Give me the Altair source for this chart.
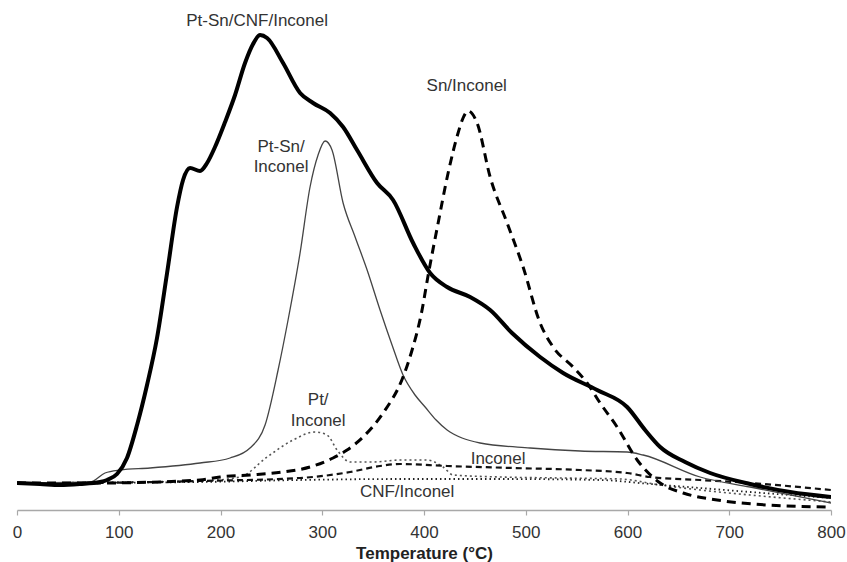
import altair as alt
import pandas as pd

# ---- data (temperature in °C, signal in arbitrary units) ----
ptsn_cnf_T = [0, 22.6, 42.3, 61.9, 81.6, 88.5, 98.3, 108.1, 118, 127.8, 137.6, 147.5, 157.3, 163.2,
              170.1, 179.9, 186.8, 194.6, 204.5, 214.3, 224.1, 232, 238.9, 245.8, 261.5, 278.2, 291,
              307.7, 320.5, 334.2, 353.9, 369.6, 389.3, 406, 422.7, 445.3, 465, 486.5, 514.1, 536.7,
              570.1, 599.6, 617.3, 632.1, 656.6, 681.2, 720.5, 759.9, 800]
ptsn_cnf_v = [27, 26, 25, 26, 28, 30, 36, 52, 85, 125, 172, 237, 303, 330,
              342, 339, 347, 363, 388, 415, 447, 466, 475, 472, 447, 417, 407,
              397, 383, 360, 327, 310, 267, 237, 223, 213, 200, 177, 153, 137,
              120, 103, 80, 63, 48, 37, 26, 18, 13]

ptsn_T = [0, 71.8, 86.5, 101.2, 130.7, 179.9, 209.4, 229, 243.8, 256.6, 266.4, 278.2, 288, 295.9,
          302.8, 309.6, 320.5, 332.3, 344.1, 356.8, 368.6, 379.4, 391.2, 401.1, 411.9, 422.7, 437.4,
          455.1, 504.3, 553.4, 599.6, 615.4, 671.4, 720.5, 800]
ptsn_v = [27, 28, 37, 40, 42, 47, 52, 62, 85, 140, 190, 257, 323, 355,
          369, 360, 307, 273, 240, 200, 165, 135, 115, 103, 90, 80, 72,
          67, 62, 59, 58, 55, 33, 23, 7]

sn_T = [0, 81.6, 179.9, 199.5, 229, 261.5, 288, 310.6, 324.4, 340.1, 359.8, 379.4, 388.3, 397.1,
        405, 413.9, 423.7, 433.5, 438.4, 443.3, 452.2, 465, 481.7, 497.4, 514.1, 526.9, 546.5,
        560.3, 573.1, 589.8, 609.5, 632.1, 654.7, 688.1, 737.3, 800]
sn_v = [27, 27, 30, 33, 35, 38, 43, 52, 60, 73, 97, 133, 160, 195,
        240, 287, 337, 377, 392, 399, 387, 333, 287, 243, 187, 163, 143,
        127, 107, 83, 50, 27, 17, 10, 5, 3]

pt_T = [0, 179.9, 219.2, 245.8, 271.3, 292.9, 304.7, 314.6, 327.3, 350, 376.5, 403, 418.8, 428.6,
        474.8, 533.8, 592.7, 632.1, 671.4, 720.5, 800]
pt_v = [27, 29, 33, 53, 70, 78, 75, 60, 48, 48, 50, 50, 43, 35,
        33, 32, 31, 25, 20, 15, 8]

inc_T = [0, 81.6, 179.9, 278.2, 327.3, 356.8, 376.5, 422.7, 487.6, 553.4, 599.6, 622.2, 671.4, 720.5, 800]
inc_v = [26, 27, 29, 32, 38, 44, 46, 44, 42, 40, 37, 33, 30, 27, 20]

cnf_T = [0, 180, 278, 376.5, 474.8, 573.1, 622.2, 671.4, 720.5, 800]
cnf_v = [27, 28, 30, 31, 31, 30, 26, 22, 18, 12]

label_text = ["Pt-Sn/CNF/Inconel", "Sn/Inconel", "Pt-Sn/", "Inconel", "Pt/", "Inconel", "Inconel", "CNF/Inconel"]
label_T = [236, 442, 259.5, 259.5, 296, 296, 472.8, 383.4]
label_v = [489, 424, 363, 343, 110, 89, 51, 18]

tick_values = [0, 100, 200, 300, 400, 500, 600, 700, 800]

# ---- build ----
series = [
    ("Pt/Inconel", pt_T, pt_v, "#555555", 1.6, [2, 3]),
    ("CNF/Inconel", cnf_T, cnf_v, "#222222", 1.8, [1.5, 3]),
    ("Inconel", inc_T, inc_v, "#111111", 2.2, [6, 4]),
    ("Pt-Sn/Inconel", ptsn_T, ptsn_v, "#444444", 1.3, None),
    ("Sn/Inconel", sn_T, sn_v, "#000000", 3.0, [9, 6]),
    ("Pt-Sn/CNF/Inconel", ptsn_cnf_T, ptsn_cnf_v, "#000000", 4.0, None),
]

xscale = alt.Scale(domain=[0, 800], nice=False, zero=False)
yscale = alt.Scale(domain=[0, 510], nice=False, zero=False)

font = "Liberation Sans, Arial, Helvetica, sans-serif"
xaxis = alt.Axis(
    values=tick_values, grid=False, title="Temperature (°C)",
    domainColor="#a8a8a8", domainWidth=1.5, tickColor="#a8a8a8", tickSize=5, tickWidth=1.2,
    labelFont=font, labelFontSize=17, labelColor="#333333",
    labelBaseline="alphabetic", labelPadding=22, labelFlush=False,
    titleFont=font, titleFontSize=17, titleFontWeight="bold", titleColor="#222222",
    titleBaseline="alphabetic", titleY=48,
)

layers = []
for name, T, v, color, w, dash in series:
    df = pd.DataFrame({"T": T, "v": v, "series": name})
    kw = dict(color=color, strokeWidth=w, interpolate="monotone", clip=True)
    if dash:
        kw["strokeDash"] = dash
    ch = alt.Chart(df).mark_line(**kw).encode(
        x=alt.X("T:Q", scale=xscale, axis=xaxis),
        y=alt.Y("v:Q", scale=yscale, axis=None),
    )
    layers.append(ch)

lab = pd.DataFrame({"text": label_text, "T": label_T, "v": label_v})
text = alt.Chart(lab).mark_text(
    font=font, fontSize=17, color="#333333",
    align="center", baseline="middle",
).encode(
    x=alt.X("T:Q", scale=xscale, axis=xaxis),
    y=alt.Y("v:Q", scale=yscale, axis=None),
    text="text:N",
)
layers.append(text)

chart = alt.layer(*layers).properties(
    width=814, height=510,
    autosize=alt.AutoSizeParams(type="none"),
    padding={"left": 17, "top": 0, "right": 16, "bottom": 52},
    background="white",
).configure_view(stroke=None)

chart.save("out.html", embed_options={"renderer": "svg", "actions": False})
